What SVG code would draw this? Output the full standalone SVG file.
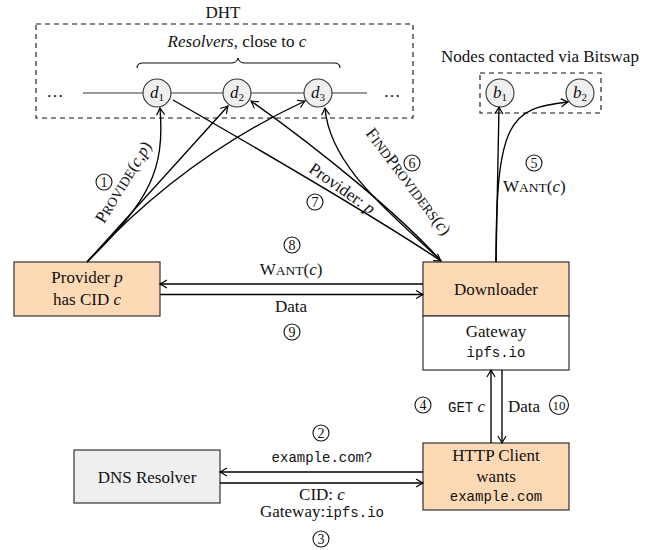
<svg xmlns="http://www.w3.org/2000/svg" width="651" height="550" viewBox="0 0 651 550">
<style>
text{font-family:"Liberation Serif","Times New Roman",serif;font-size:17px;fill:#111}
.m{font-family:"Liberation Mono","Courier New",monospace;font-size:14px}
.i{font-style:italic}
.sc{font-size:13.5px}
.box{stroke:#333;stroke-width:1.2}
.org{fill:#FDD9B5}
.gry{fill:#EFEFEF}
.dash{fill:none;stroke:#111;stroke-width:1.1;stroke-dasharray:5 4}
.c{text-anchor:middle}
.num circle{fill:none;stroke:#111;stroke-width:1.1}
.num text{font-size:14px;text-anchor:middle}
.edge path{fill:none;stroke:#000;stroke-width:1.35;marker-end:url(#ah)}
.nd{fill:#EFEFEF;stroke:#333;stroke-width:1.1}
</style>
<defs>
<marker id="ah" viewBox="-8 -5 10 10" refX="0" refY="0" markerWidth="10" markerHeight="10" markerUnits="userSpaceOnUse" orient="auto">
<path d="M-6.5,-3.8 Q-2,-1 0,0 Q-2,1 -6.5,3.8" fill="none" stroke="#000" stroke-width="1.2" stroke-linecap="round"/>
</marker>
</defs>

<!-- DHT group -->
<g id="dht">
<rect class="dash" x="36" y="24" width="377" height="94"/>
<text class="c" x="223" y="18">DHT</text>
<text class="c" x="237" y="47"><tspan class="i">Resolvers</tspan>, close to <tspan class="i">c</tspan></text>
<path d="M137,68 Q137,63 143,63 L231,63 Q237,63 238,58 Q239,63 245,63 L334,63 Q340,63 340,68" fill="none" stroke="#111" stroke-width="1.2"/>
<line x1="83" y1="93" x2="367" y2="93" stroke="#777" stroke-width="1.5"/>
<text class="c" x="55" y="97">…</text>
<text class="c" x="392" y="97">…</text>
</g>
<g id="d1"><circle class="nd" cx="157" cy="93" r="14"/><text class="c" x="157" y="98"><tspan class="i">d</tspan><tspan font-size="11" dy="3">1</tspan></text></g>
<g id="d2"><circle class="nd" cx="237" cy="93" r="14"/><text class="c" x="237" y="98"><tspan class="i">d</tspan><tspan font-size="11" dy="3">2</tspan></text></g>
<g id="d3"><circle class="nd" cx="318" cy="93" r="14"/><text class="c" x="318" y="98"><tspan class="i">d</tspan><tspan font-size="11" dy="3">3</tspan></text></g>

<!-- Bitswap group -->
<g id="bitswap">
<rect class="dash" x="480" y="73" width="121" height="40"/>
<text class="c" x="540" y="62">Nodes contacted via Bitswap</text>
</g>
<g id="b1"><circle class="nd" cx="500" cy="93" r="14"/><text class="c" x="500" y="98"><tspan class="i">b</tspan><tspan font-size="11" dy="3">1</tspan></text></g>
<g id="b2"><circle class="nd" cx="580" cy="93" r="14"/><text class="c" x="580" y="98"><tspan class="i">b</tspan><tspan font-size="11" dy="3">2</tspan></text></g>

<!-- Nodes -->
<g id="provider">
<rect class="box org" x="14" y="262" width="146" height="54"/>
<text class="c" x="87" y="283">Provider <tspan class="i">p</tspan></text>
<text class="c" x="87" y="305">has CID <tspan class="i">c</tspan></text>
</g>
<g id="downloader">
<rect class="box org" x="423" y="262" width="146" height="54"/>
<text class="c" x="496" y="295">Downloader</text>
</g>
<g id="gateway">
<rect class="box" fill="#fff" x="423" y="316" width="146" height="54"/>
<text class="c" x="496" y="337">Gateway</text>
<text class="c m" x="496" y="357">ipfs.io</text>
</g>
<g id="http">
<rect class="box org" x="423" y="443" width="146" height="67"/>
<text class="c" x="496" y="461">HTTP Client</text>
<text class="c" x="496" y="482">wants</text>
<text class="c m" x="496" y="501">example.com</text>
</g>
<g id="dns">
<rect class="box gry" x="74" y="450" width="146" height="53"/>
<text class="c" x="147" y="483">DNS Resolver</text>
</g>

<!-- Connectors -->
<g id="connectors" class="edge">
<!-- Provide fan -->
<path d="M87,262 C150,200 165,170 160,108"/>
<path d="M87,262 L228,106"/>
<path d="M87,262 C130,215 200,150 305,101"/>
<!-- FindProviders / Provider: p -->
<path d="M173,100 C260,150 380,220 441,261"/>
<path d="M441,261 C400,215 320,150 251,101"/>
<path d="M441,261 C400,220 330,170 325,108"/>
<!-- Bitswap -->
<path d="M496,262 L499,107"/>
<path d="M496,262 C496,120 510,108 568,102"/>
<!-- Provider/Downloader -->
<path d="M423,284 L160,284"/>
<path d="M160,294.5 L423,294.5"/>
<!-- DNS -->
<path d="M423,472 L220,472"/>
<path d="M220,483 L423,483"/>
<!-- Gateway/HTTP -->
<path d="M491,443 L491,370"/>
<path d="M502,370 L502,443"/>
</g>

<!-- Edge labels -->
<g id="labels">
<text class="c" transform="translate(128,185) rotate(-58.5)">P<tspan class="sc">ROVIDE</tspan>(<tspan class="i">c</tspan>,<tspan class="i">p</tspan>)</text>
<text class="c" transform="translate(404,185) rotate(53)">F<tspan class="sc">IND</tspan>P<tspan class="sc">ROVIDERS</tspan>(<tspan class="i">c</tspan>)</text>
<text class="c" transform="translate(339,193) rotate(35)">Provider: <tspan class="i">p</tspan></text>
<text x="503" y="192">W<tspan class="sc">ANT</tspan>(<tspan class="i">c</tspan>)</text>
<text class="c" x="291" y="275">W<tspan class="sc">ANT</tspan>(<tspan class="i">c</tspan>)</text>
<text class="c" x="291" y="312">Data</text>
<text class="c m" x="322" y="462">example.com?</text>
<text class="c" x="322" y="500">CID: <tspan class="i">c</tspan></text>
<text class="c" x="322" y="517">Gateway:<tspan class="m">ipfs.io</tspan></text>
<text x="448" y="412"><tspan class="m">GET</tspan> <tspan class="i">c</tspan></text>
<text x="508" y="412">Data</text>
</g>

<!-- Step numbers -->
<g id="steps" class="num">
<circle cx="104" cy="182" r="8"/><text x="104" y="187">1</text>
<circle cx="321" cy="433" r="8"/><text x="321" y="438">2</text>
<circle cx="321" cy="539" r="8"/><text x="321" y="544">3</text>
<circle cx="423" cy="405" r="8"/><text x="423" y="410">4</text>
<circle cx="534" cy="163" r="8"/><text x="534" y="168">5</text>
<circle cx="412" cy="163" r="8"/><text x="412" y="168">6</text>
<circle cx="315" cy="202" r="8"/><text x="315" y="207">7</text>
<circle cx="292" cy="245" r="8"/><text x="292" y="250">8</text>
<circle cx="292" cy="332" r="8"/><text x="292" y="337">9</text>
<circle cx="559" cy="405" r="9.5"/><text x="559" y="410" style="font-size:13px">10</text>
</g>
</svg>
